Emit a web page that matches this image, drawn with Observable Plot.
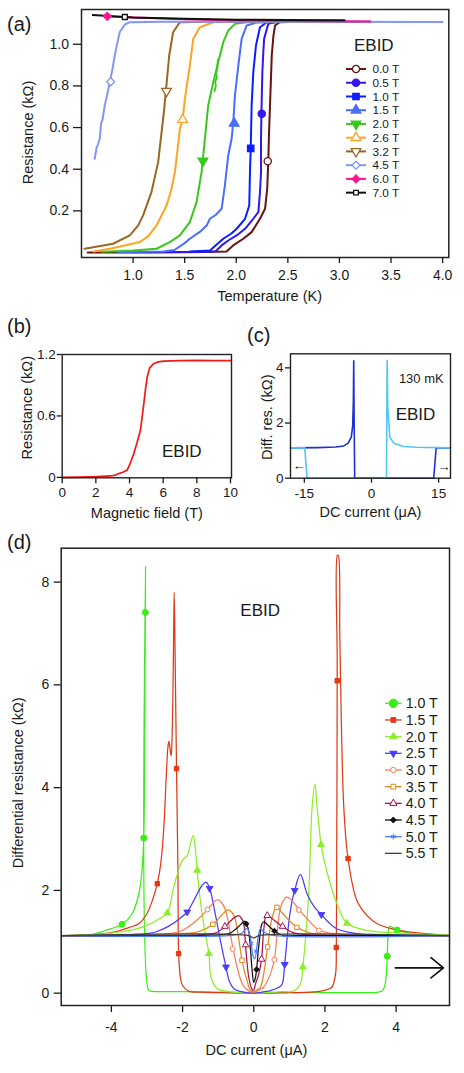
<!DOCTYPE html>
<html>
<head>
<meta charset="utf-8">
<script src="https://cdn.jsdelivr.net/npm/d3@7"></script>
<script src="https://cdn.jsdelivr.net/npm/@observablehq/plot@0.6"></script>
<style>
html,body{margin:0;padding:0;background:#fff;}
#fig{position:relative;width:464px;height:1073px;overflow:hidden;background:#fff;}
#fig > svg{position:absolute;}
</style>
</head>
<body>
<div id="fig"></div>
<script>
const FONT = '"Liberation Sans", Arial, Helvetica, sans-serif';

// ================= DATA =================
// ---- Panel (a): R(T) at several fields ----
const aFields = ["0.0 T","0.5 T","1.0 T","1.5 T","2.0 T","2.6 T","3.2 T","4.5 T","6.0 T","7.0 T"];
const aColors = ["#6a1212","#3516ee","#0a1eff","#4a6cff","#38c81c","#ffa424","#9a6622","#8494ff","#ff1493","#111111"];
const aSymbols = ["circle","circle","square","triangle","triangleDown","triangle","triangleDown","diamond2","diamond2","square"];
const aFilled = [false,true,true,true,true,false,false,false,true,false];
const aXTicks = [1.0,1.5,2.0,2.5,3.0,3.5,4.0];
const aYTicks = [0.2,0.4,0.6,0.8,1.0];

const a00 = [[0.56,0.0],[1.2,0.0],[1.7,0.002],[1.906,0.005],[1.97,0.034],[2.068,0.066],[2.149,0.098],[2.23,0.162],[2.279,0.21],[2.30,0.306],[2.31,0.434],[2.318,0.58],[2.327,0.706],[2.336,0.83],[2.344,0.946],[2.36,1.04],[2.376,1.09],[2.42,1.106],[2.6,1.108],[3.3,1.108]];
const a05 = [[0.9,0.003],[1.6,0.003],[1.8,0.006],[1.858,0.034],[1.93,0.06],[2.004,0.082],[2.085,0.114],[2.165,0.162],[2.214,0.194],[2.23,0.29],[2.24,0.386],[2.24,0.546],[2.244,0.674],[2.253,0.866],[2.262,0.96],[2.27,1.026],[2.31,1.098],[2.4,1.108],[3.0,1.108]];
const a10 = [[1.55,0.005],[1.745,0.01],[1.874,0.066],[1.95,0.09],[2.004,0.114],[2.085,0.162],[2.126,0.226],[2.133,0.386],[2.14,0.498],[2.149,0.706],[2.165,0.866],[2.191,0.994],[2.23,1.082],[2.295,1.106],[2.6,1.108]];
const a15 = [[0.85,0.003],[1.3,0.005],[1.4,0.012],[1.5,0.045],[1.55,0.066],[1.65,0.1],[1.713,0.13],[1.745,0.162],[1.8,0.18],[1.858,0.21],[1.89,0.322],[1.922,0.466],[1.955,0.546],[1.971,0.626],[1.987,0.754],[2.02,0.898],[2.052,1.026],[2.1,1.09],[2.2,1.105],[2.6,1.108]];
const a20 = [[0.7,0.004],[1.0,0.01],[1.227,0.018],[1.356,0.05],[1.453,0.082],[1.55,0.146],[1.615,0.242],[1.664,0.386],[1.696,0.546],[1.728,0.706],[1.777,0.818],[1.825,0.914],[1.874,1.01],[1.922,1.066],[1.987,1.098],[2.1,1.106],[2.6,1.108]];
const a20jag = [[1.822,0.925],[1.815,0.88],[1.806,0.86],[1.812,0.84],[1.796,0.82],[1.802,0.80],[1.79,0.775]];
const a26 = [[0.62,0.005],[0.8,0.02],[1.065,0.05],[1.15,0.08],[1.227,0.13],[1.324,0.226],[1.37,0.30],[1.405,0.386],[1.43,0.49],[1.453,0.594],[1.48,0.638],[1.502,0.738],[1.55,0.898],[1.583,1.026],[1.647,1.082],[1.777,1.106],[2.2,1.108],[3.0,1.108]];
const a32 = [[0.53,0.018],[0.806,0.042],[0.968,0.082],[1.05,0.13],[1.097,0.178],[1.178,0.29],[1.243,0.434],[1.276,0.578],[1.30,0.68],[1.317,0.77],[1.35,0.946],[1.388,1.058],[1.453,1.106],[1.7,1.108],[2.5,1.108]];
const a45 = [[0.628,0.45],[0.645,0.50],[0.66,0.52],[0.677,0.546],[0.69,0.62],[0.705,0.64],[0.725,0.706],[0.75,0.76],[0.774,0.818],[0.80,0.88],[0.822,0.946],[0.84,0.99],[0.87,1.058],[0.92,1.095],[0.968,1.106],[1.3,1.108],[2.5,1.108],[4.0,1.107]];
const a60 = [[0.72,1.135],[1.0,1.128],[1.5,1.12],[2.0,1.115],[2.6,1.112],[3.3,1.109]];
const a70 = [[0.61,1.14],[0.8,1.135],[1.0,1.128],[1.5,1.122],[2.0,1.118],[2.5,1.116],[3.05,1.115]];
const aCurves = [a00,a05,a10,a15,a20,a26,a32,a45,a60,a70];
const aMarkers = [[2.305,0.438],[2.247,0.666],[2.14,0.50],[1.98,0.62],[1.677,0.44],[1.48,0.638],[1.324,0.775],[0.783,0.82],[0.75,1.134],[0.92,1.131]];

// ---- Panel (b): R(B) ----
const bXTicks = [0,2,4,6,8,10];
const bYTicks = [0,0.6,1.2];
const bCurve = [[0,0.0],[1,0.003],[2,0.008],[2.9,0.014],[3.2,0.025],[3.27,0.032],[3.6,0.05],[3.86,0.071],[4.05,0.14],[4.25,0.23],[4.45,0.34],[4.65,0.46],[4.75,0.59],[4.85,0.72],[4.95,0.86],[5.05,0.98],[5.2,1.07],[5.44,1.11],[5.7,1.128],[6.03,1.135],[7,1.14],[8,1.142],[9,1.14],[10.05,1.141]];

// ---- Panel (c): dV/dI vs I at 130 mK ----
const cXTicks = [-15,0,15];
const cYTicks = [0,2,4];
const cSweepUp = [[-18.09,1.10],[-12,1.11],[-8,1.13],[-6.2,1.17],[-5.2,1.27],[-4.5,1.5],[-4.2,1.9],[-4.05,2.8],[-3.97,4.26],[-3.87,2.0],[-3.75,0.0],[0,0.0],[13.9,0.0],[14.45,1.1],[17.65,1.1]];
const cSweepDown = [[-18.09,1.1],[-14.9,1.1],[-14.4,0.0],[0,0.0],[3.35,0.0],[3.5,4.26],[3.64,2.57],[4.09,1.49],[4.98,1.27],[7.2,1.15],[10,1.12],[17.65,1.1]];

// ---- Panel (d): dV/dI vs I at several fields ----
const dFields = ["1.0 T","1.5 T","2.0 T","2.5 T","3.0 T","3.5 T","4.0 T","4.5 T","5.0 T","5.5 T"];
const dColors = ["#3cee18","#e03a14","#8cee2a","#4a3cff","#ff7a58","#dc8a1e","#a8124e","#111111","#4a7cff","#404040"];
const dSymbols = ["circle","square","triangle","triangleDown","circle","square","triangle","diamond2","asterisk",null];
const dFilled = [true,true,true,true,false,false,false,true,false,false];
const dXTicks = [-4,-2,0,2,4];
const dYTicks = [0,2,4,6,8];

const d10 = [[-5.4,1.12],[-4.5,1.15],[-4.17,1.22],[-3.70,1.34],[-3.42,1.54],[-3.23,1.93],[-3.14,2.39],[-3.09,3.02],[-3.06,5.57],[-3.045,7.41],[-3.04,8.3],[-2.96,0.06],[-2.9,0.04],[-2.0,0.03],[-1.0,0.02],[0,0.01],[1.0,0.01],[2.0,0.01],[3.0,0.01],[3.5,0.02],[3.62,0.05],[3.70,0.21],[3.75,0.72],[3.77,1.1],[3.79,1.26],[3.83,1.30],[3.92,1.27],[4.03,1.23],[4.3,1.18],[4.8,1.14],[5.5,1.125]];
const d15 = [[-5.4,1.12],[-4.5,1.14],[-4.0,1.18],[-3.5,1.28],[-3.23,1.35],[-3.0,1.55],[-2.85,1.8],[-2.71,2.13],[-2.6,2.6],[-2.52,3.3],[-2.46,4.2],[-2.41,4.8],[-2.385,4.9],[-2.355,4.78],[-2.32,4.62],[-2.29,5.1],[-2.26,6.4],[-2.235,7.8],[-2.21,6.6],[-2.17,4.37],[-2.13,2.4],[-2.11,0.77],[-2.06,0.3],[-2.0,0.15],[-1.83,0.04],[-1.5,0.02],[-1.0,0.01],[0,0.0],[1.0,0.01],[1.8,0.03],[2.1,0.08],[2.2,0.12],[2.3,0.38],[2.32,0.89],[2.33,2.5],[2.34,4.5],[2.345,6.5],[2.35,8.52],[2.375,8.52],[2.42,6.86],[2.53,3.62],[2.65,2.62],[2.9,1.80],[3.2,1.5],[3.47,1.35],[4.0,1.23],[4.4,1.19],[5.0,1.15],[5.5,1.13]];
const d20 = [[-5.4,1.12],[-4.5,1.14],[-4.0,1.17],[-3.5,1.22],[-3.0,1.32],[-2.7,1.43],[-2.43,1.56],[-2.25,2.06],[-2.01,2.58],[-1.87,2.68],[-1.78,2.9],[-1.70,3.07],[-1.64,2.8],[-1.59,2.39],[-1.50,1.80],[-1.38,1.22],[-1.26,0.77],[-1.20,0.31],[-1.03,0.09],[-0.7,0.03],[-0.3,0.01],[0,0],[0.3,0.01],[0.8,0.03],[1.12,0.04],[1.31,0.18],[1.38,0.51],[1.45,1.03],[1.55,2.0],[1.64,3.62],[1.72,4.07],[1.78,3.62],[1.87,3.0],[1.89,2.89],[2.0,2.52],[2.15,2.13],[2.35,1.72],[2.62,1.36],[3.18,1.22],[3.6,1.19],[4.12,1.17],[5.5,1.13]];
const d25 = [[-5.4,1.12],[-4.0,1.13],[-3.0,1.16],[-2.76,1.19],[-2.4,1.3],[-2.1,1.44],[-1.87,1.58],[-1.65,1.85],[-1.45,2.1],[-1.34,2.16],[-1.24,2.04],[-1.08,1.54],[-0.94,1.03],[-0.78,0.51],[-0.68,0.22],[-0.55,0.08],[-0.35,0.03],[0,0.0],[0.3,0.03],[0.47,0.05],[0.72,0.12],[0.80,0.18],[0.87,0.56],[0.98,1.35],[1.08,1.80],[1.15,2.0],[1.31,2.31],[1.50,1.93],[1.70,1.68],[1.90,1.53],[2.1,1.38],[2.34,1.25],[2.99,1.15],[3.5,1.13],[5.5,1.12]];
const d30 = [[-5.4,1.12],[-3.0,1.13],[-2.4,1.16],[-2.01,1.22],[-1.6,1.42],[-1.29,1.63],[-1.1,1.79],[-1.01,1.82],[-0.9,1.76],[-0.79,1.61],[-0.68,1.25],[-0.58,0.86],[-0.42,0.38],[-0.3,0.15],[-0.15,0.05],[0,0.02],[0.15,0.06],[0.28,0.12],[0.47,0.38],[0.58,0.66],[0.66,1.2],[0.72,1.56],[0.8,1.76],[0.92,1.87],[1.05,1.82],[1.28,1.62],[1.5,1.45],[1.83,1.23],[2.34,1.15],[3.0,1.13],[5.5,1.12]];
const d35 = [[-5.4,1.12],[-2.5,1.13],[-1.8,1.17],[-1.54,1.2],[-1.14,1.34],[-0.9,1.52],[-0.72,1.62],[-0.6,1.56],[-0.51,1.41],[-0.42,1.05],[-0.33,0.64],[-0.19,0.25],[-0.1,0.07],[0,0.03],[0.1,0.07],[0.19,0.12],[0.32,0.55],[0.39,0.9],[0.52,1.48],[0.64,1.67],[0.8,1.56],[1.0,1.41],[1.22,1.28],[1.5,1.19],[1.74,1.15],[3,1.125],[5.5,1.12]];
const d40 = [[-5.4,1.12],[-2,1.125],[-1.3,1.15],[-1.08,1.17],[-0.81,1.29],[-0.6,1.44],[-0.42,1.51],[-0.33,1.44],[-0.28,1.35],[-0.23,0.93],[-0.14,0.31],[-0.05,0.08],[0,0.06],[0.05,0.18],[0.15,0.4],[0.22,0.67],[0.28,1.22],[0.36,1.53],[0.5,1.46],[0.8,1.30],[1.1,1.18],[1.5,1.14],[2.5,1.125],[5.5,1.12]];
const d45 = [[-5.4,1.12],[-1.5,1.125],[-0.7,1.16],[-0.5,1.25],[-0.3,1.38],[-0.25,1.40],[-0.19,1.33],[-0.14,1.2],[-0.09,0.83],[-0.04,0.4],[0,0.21],[0.04,0.28],[0.08,0.46],[0.13,0.85],[0.17,1.09],[0.22,1.33],[0.28,1.39],[0.4,1.32],[0.58,1.21],[0.84,1.12],[1.2,1.12],[5.5,1.12]];
const d50 = [[-5.4,1.12],[-0.6,1.125],[-0.35,1.16],[-0.19,1.26],[-0.13,1.18],[-0.07,0.97],[-0.02,0.72],[0.03,0.67],[0.08,0.86],[0.13,1.12],[0.19,1.25],[0.3,1.18],[0.5,1.13],[5.5,1.12]];
const d55 = [[-5.4,1.122],[-0.15,1.122],[-0.05,1.09],[0,1.075],[0.05,1.09],[0.15,1.122],[5.5,1.122]];
const dCurves = [d10,d15,d20,d25,d30,d35,d40,d45,d50,d55];
const dMarkers = [
  [[-3.70,1.34],[-3.09,3.02],[-3.045,7.41],[3.75,0.72],[4.03,1.23]],
  [[-2.71,2.13],[-2.17,4.37],[-2.11,0.77],[2.32,0.89],[2.345,6.08],[2.65,2.62]],
  [[-2.43,1.56],[-1.59,2.39],[-1.26,0.77],[1.38,0.51],[1.89,2.89],[2.62,1.36]],
  [[-1.87,1.58],[-1.24,2.04],[-0.78,0.51],[0.87,0.56],[1.15,2.0],[1.90,1.53]],
  [[-1.30,1.63],[-0.59,0.86],[0.58,0.65],[1.27,1.62],[1.83,1.22]],
  [[-1.15,1.34],[-0.33,0.64],[0.39,0.90],[0.65,1.67],[1.21,1.28]],
  [[-0.81,1.30],[-0.23,0.94],[0.22,0.66],[0.38,1.51],[0.81,1.30]],
  [[-0.21,1.35],[0.08,0.46],[0.58,1.21]],
  [[-0.07,0.97],[0.07,0.82]],
  []
];
const dArrow = [{x1: 3.98, x2: 5.33, y: 0.494}];

// ================= HELPERS =================
const sqrt3 = Math.sqrt(3);
const triangleDown = {
  draw(ctx, size) {
    const y = -Math.sqrt(size / (sqrt3 * 3));
    ctx.moveTo(0, -y * 2);
    ctx.lineTo(-sqrt3 * y, y);
    ctx.lineTo(sqrt3 * y, y);
    ctx.closePath();
  }
};
const SYM = {
  circle: d3.symbolCircle, square: d3.symbolSquare, triangle: d3.symbolTriangle,
  triangleDown: triangleDown, diamond2: d3.symbolDiamond2, asterisk: d3.symbolAsterisk
};
const X = d => d[0], Y = d => d[1];
const fig = document.getElementById("fig");
function place(node, left, top) {
  node.style.position = "absolute";
  node.style.left = left + "px";
  node.style.top = top + "px";
  node.style.background = "transparent";
  fig.appendChild(node);
}
function dots(pts, sym, color, filled, r, sw) {
  if (!sym || !pts.length) return null;
  const isStroke = sym === "asterisk";
  return Plot.dot(pts, {
    x: X, y: Y, symbol: SYM[sym], r: r,
    fill: isStroke ? "none" : (filled ? color : "white"),
    stroke: color, strokeWidth: sw
  });
}
function axisMarks(o) {
  return [
    Plot.axisX({ticks: o.xt, tickFormat: o.xf, tickSize: o.xs, tickPadding: o.xp, label: null, fontSize: o.fs, strokeWidth: 1.3}),
    Plot.axisY({ticks: o.yt, tickFormat: o.yf, tickSize: o.ys, tickPadding: o.yp, label: null, fontSize: o.fs, strokeWidth: 1.3})
  ];
}
const baseStyle = {fontFamily: FONT, fontSize: "14px", color: "#1a1a1a", background: "transparent", overflow: "visible"};
const fmt1 = d => d.toFixed(1);
const fmtInt = d => String(d);

// ================= PANEL (a) =================
const plotA = Plot.plot({
  width: 464, height: 310,
  marginTop: 9, marginRight: 15.7, marginBottom: 53, marginLeft: 81,
  style: baseStyle,
  x: {domain: [0.5, 4.06]},
  y: {domain: [-0.024, 1.167]},
  marks: [
    ...aCurves.map((c, i) => Plot.line(c, {x: X, y: Y, stroke: aColors[i], strokeWidth: 2, strokeLinejoin: "round"})),
    Plot.line(a20jag, {x: X, y: Y, stroke: aColors[4], strokeWidth: 1.8}),
    ...aMarkers.map((m, i) => dots([m], aSymbols[i], aColors[i], aFilled[i], i === 9 ? 2.8 : 3.6, 1.3)),
    Plot.frame({stroke: "#222", strokeWidth: 1.5}),
    ...axisMarks({xt: aXTicks, xf: fmt1, xs: 6, xp: 7, yt: aYTicks, yf: fmt1, ys: 8, yp: 4.5, fs: 14}),
    Plot.text(["Temperature (K)"], {text: d => d, frameAnchor: "bottom", dx: 4.5, dy: 39, lineAnchor: "middle", textAnchor: "middle", fontSize: 14.5}),
    Plot.text(["Resistance (kΩ)"], {text: d => d, frameAnchor: "left", dx: -53, dy: -1, rotate: -90, lineAnchor: "middle", textAnchor: "middle", fontSize: 14.5}),
    Plot.text(["EBID"], {text: d => d, frameAnchor: "top-right", dx: -75, dy: 36, lineAnchor: "middle", textAnchor: "middle", fontSize: 17})
  ].filter(Boolean)
});
place(plotA, 0, 0);

// ================= PANEL (b) =================
const plotB = Plot.plot({
  width: 240, height: 200,
  marginTop: 24, marginRight: 9, marginBottom: 52.7, marginLeft: 61.7,
  style: baseStyle,
  x: {domain: [0, 10.06]},
  y: {domain: [-0.004, 1.2]},
  marks: [
    Plot.line(bCurve, {x: X, y: Y, stroke: "#f21a14", strokeWidth: 1.7}),
    Plot.frame({stroke: "#222", strokeWidth: 1.4}),
    ...axisMarks({xt: bXTicks, xf: fmtInt, xs: 6, xp: 4, yt: bYTicks, yf: d => d === 0 ? "0" : d.toFixed(1), ys: 5, yp: 1.5, fs: 13.5}),
    Plot.text(["Magnetic field (T)"], {text: d => d, frameAnchor: "bottom", dy: 35.4, lineAnchor: "middle", textAnchor: "middle", fontSize: 14.5}),
    Plot.text(["Resistance (kΩ)"], {text: d => d, frameAnchor: "left", dx: -35, dy: -8.4, rotate: -90, lineAnchor: "middle", textAnchor: "middle", fontSize: 14.5}),
    Plot.text(["EBID"], {text: d => d, frameAnchor: "bottom-right", dx: -49.7, dy: -26.3, lineAnchor: "middle", textAnchor: "middle", fontSize: 17})
  ]
});
place(plotB, 0, 330);

// ================= PANEL (c) =================
const plotC = Plot.plot({
  width: 224, height: 200,
  marginTop: 23.3, marginRight: 14, marginBottom: 52.3, marginLeft: 50,
  style: baseStyle,
  x: {domain: [-18.09, 17.65]},
  y: {domain: [0, 4.51]},
  marks: [
    Plot.line(cSweepUp, {x: X, y: Y, stroke: "#1f30d4", strokeWidth: 1.6}),
    Plot.line(cSweepDown, {x: X, y: Y, stroke: "#52c6f2", strokeWidth: 1.6}),
    Plot.frame({stroke: "#222", strokeWidth: 1.4}),
    ...axisMarks({xt: cXTicks, xf: fmtInt, xs: 5, xp: 5, yt: cYTicks, yf: fmtInt, ys: 5, yp: 2, fs: 13.5}),
    Plot.text(["DC current (μA)"], {text: d => d, frameAnchor: "bottom", dy: 34, lineAnchor: "middle", textAnchor: "middle", fontSize: 14.5}),
    Plot.text(["Diff. res. (kΩ)"], {text: d => d, frameAnchor: "left", dx: -23.3, dy: 1.2, rotate: -90, lineAnchor: "middle", textAnchor: "middle", fontSize: 14.5}),
    Plot.text(["130 mK"], {text: d => d, frameAnchor: "top-right", dx: -29.2, dy: 25, lineAnchor: "middle", textAnchor: "middle", fontSize: 13}),
    Plot.text(["EBID"], {text: d => d, frameAnchor: "top-right", dx: -35, dy: 60.7, lineAnchor: "middle", textAnchor: "middle", fontSize: 17}),
    Plot.text(["←"], {text: d => d, frameAnchor: "bottom-left", dx: 8.5, dy: -12.7, lineAnchor: "middle", textAnchor: "middle", fontSize: 13}),
    Plot.text(["→"], {text: d => d, frameAnchor: "bottom-right", dx: -6.5, dy: -11, lineAnchor: "middle", textAnchor: "middle", fontSize: 13})
  ]
});
place(plotC, 240, 330);

// ================= PANEL (d) =================
const plotD = Plot.plot({
  width: 464, height: 543,
  marginTop: 17.7, marginRight: 15, marginBottom: 68, marginLeft: 60.7,
  style: baseStyle,
  x: {domain: [-5.41, 5.5]},
  y: {domain: [-0.24, 8.66]},
  marks: [
    ...dCurves.map((c, i) => Plot.line(c, {x: X, y: Y, stroke: dColors[i], strokeWidth: 1.25, curve: "catmull-rom", clip: true})),
    ...dMarkers.map((m, i) => dots(m, dSymbols[i], dColors[i], dFilled[i], i === 0 ? 3.0 : 2.5, 1.0)),
    Plot.arrow(dArrow, {x1: "x1", x2: "x2", y1: "y", y2: "y", stroke: "#111", strokeWidth: 1.7, headLength: 17, headAngle: 78}),
    Plot.frame({stroke: "#222", strokeWidth: 1.5}),
    ...axisMarks({xt: dXTicks, xf: fmtInt, xs: 7, xp: 10, yt: dYTicks, yf: fmtInt, ys: 7, yp: 5, fs: 14}),
    Plot.text(["DC current (μA)"], {text: d => d, frameAnchor: "bottom", dx: 1, dy: 45, lineAnchor: "middle", textAnchor: "middle", fontSize: 14.5}),
    Plot.text(["Differential resistance (kΩ)"], {text: d => d, frameAnchor: "left", dx: -42.7, dy: 6, rotate: -90, lineAnchor: "middle", textAnchor: "middle", fontSize: 14.5}),
    Plot.text(["EBID"], {text: d => d, frameAnchor: "top-left", dx: 199, dy: 62.3, lineAnchor: "middle", textAnchor: "middle", fontSize: 17})
  ].filter(Boolean)
});
place(plotD, 0, 530);

// ================= OVERLAY: panel letters & legends =================
const ov = d3.create("svg").attr("width", 464).attr("height", 1073)
  .style("left", "0px").style("top", "0px").style("pointer-events", "none")
  .style("font-family", FONT).style("fill", "#1a1a1a");

const letters = [["(a)", 7, 24], ["(b)", 7, 326], ["(c)", 247, 335], ["(d)", 7, 541.7]];
letters.forEach(([t, x, y]) => ov.append("text").attr("x", x).attr("y", y).attr("dy", "0.35em").attr("font-size", 20).text(t));

function legend(g, names, colors, syms, filled, o) {
  names.forEach((name, i) => {
    const y = o.y0 + i * o.dy;
    g.append("line").attr("x1", o.lx1).attr("x2", o.lx2).attr("y1", y).attr("y2", y)
      .attr("stroke", colors[i]).attr("stroke-width", o.lw);
    if (syms[i]) {
      const isStroke = syms[i] === "asterisk";
      g.append("path").attr("d", d3.symbol(SYM[syms[i]], Math.PI * o.r(i) * o.r(i))())
        .attr("transform", `translate(${(o.lx1 + o.lx2) / 2},${y})`)
        .attr("fill", isStroke ? "none" : (filled[i] ? colors[i] : "white"))
        .attr("stroke", colors[i]).attr("stroke-width", o.sw);
    }
    g.append("text").attr("x", o.tx).attr("y", y).attr("dy", "0.36em").attr("font-size", o.fs).text(name);
  });
}
legend(ov.append("g"), aFields, aColors, aSymbols, aFilled,
  {y0: 69, dy: 13.74, lx1: 346, lx2: 366, tx: 372.5, fs: 11.8, lw: 2, sw: 1.3, r: i => (i === 9 ? 2.6 : 3.6)});
legend(ov.append("g"), dFields, dColors, dSymbols, dFilled,
  {y0: 703.3, dy: 16.67, lx1: 385, lx2: 401.7, tx: 405.7, fs: 14.2, lw: 1.3, sw: 1.0, r: i => (i === 0 ? 4.2 : 2.7)});

place(ov.node(), 0, 0);
</script>
</body>
</html>
